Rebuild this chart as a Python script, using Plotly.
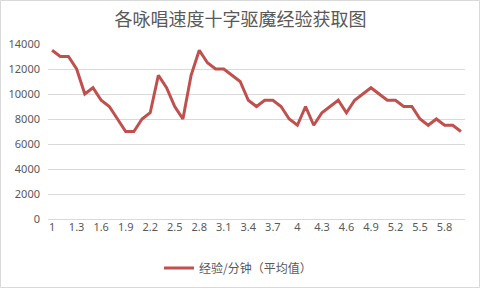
import plotly.graph_objects as go

categories = [f"{v/10:g}" for v in range(10, 61)]
values = [13500, 13000, 13000, 12000, 10000, 10500, 9500, 9000, 8000, 7000,
          7000, 8000, 8500, 11500, 10500, 9000, 8000, 11500, 13500, 12500,
          12000, 12000, 11500, 11000, 9500, 9000, 9500, 9500, 9000, 8000,
          7500, 9000, 7500, 8500, 9000, 9500, 8500, 9500, 10000, 10500,
          10000, 9500, 9500, 9000, 9000, 8000, 7500, 8000, 7500, 7500,
          7000]
tick_labels = categories[::3]
y_ticks = list(range(0, 14001, 2000))
y_tick_text = [str(v) for v in y_ticks]

W, H = 481, 289
L, R, T, B = 48, 16, 44, 70
pw, ph = W - L - R, H - T - B

def px(x):
    return (x - L) / pw

def py(y):
    return (H - B - y) / ph

fig = go.Figure()
fig.add_trace(go.Scatter(
    x=categories, y=values, mode="lines", name="经验/分钟（平均值）",
    line=dict(color="#c0504d", width=3), showlegend=True,
))

fig.update_layout(
    width=W, height=H,
    margin=dict(l=L, r=R, t=T, b=B, autoexpand=False),
    paper_bgcolor="white", plot_bgcolor="white",
    font=dict(family="Noto Sans CJK SC, sans-serif", color="#595959", size=11),
    title=dict(text="各咏唱速度十字驱魔经验获取图", x=0.5, xanchor="center",
               y=1 - 20 / H, yanchor="middle",
               font=dict(size=18, color="#595959", family="Noto Sans CJK SC")),
    xaxis=dict(type="category", categoryorder="array", categoryarray=categories,
               tickmode="array", tickvals=tick_labels, ticktext=tick_labels,
               range=[-0.5, len(categories) - 0.5], showgrid=False,
               showline=False, zeroline=False, ticks="", automargin=False,
               tickfont=dict(size=11, color="#595959", family="Noto Sans, sans-serif")),
    yaxis=dict(range=[0, 14000], tickmode="array", tickvals=y_ticks, ticktext=y_tick_text,
               showgrid=True, gridcolor="#d9d9d9", gridwidth=1,
               zeroline=True, zerolinecolor="#d9d9d9", zerolinewidth=1,
               showline=False, ticks="", ticklabelstandoff=7, automargin=False,
               tickfont=dict(size=11, color="#595959", family="Noto Sans, sans-serif")),
    legend=dict(orientation="h", x=px(238), xanchor="center", y=py(268), yanchor="middle",
                font=dict(size=12, color="#595959", family="Noto Sans CJK SC"),
                bgcolor="rgba(0,0,0,0)"),
    shapes=[dict(type="rect", xref="paper", yref="paper",
                 x0=px(0.5), x1=px(479.5), y0=py(287.5), y1=py(0.5),
                 line=dict(color="#d9d9d9", width=1), layer="below")],
)

fig.write_html("out.html")
